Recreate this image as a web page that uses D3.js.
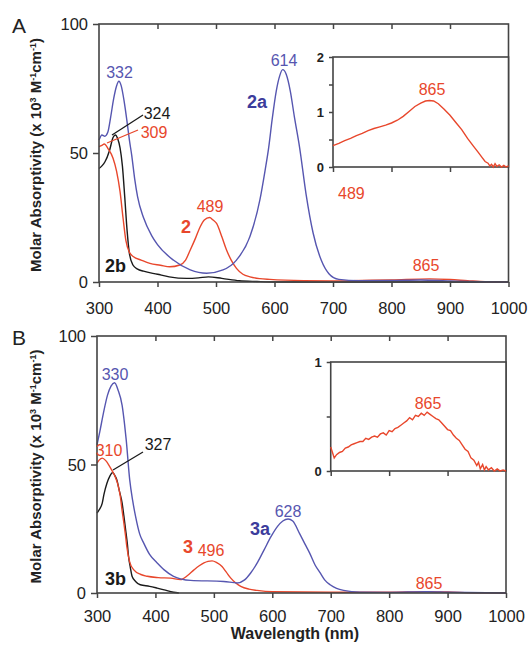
<!DOCTYPE html>
<html>
<head>
<meta charset="utf-8">
<script src="https://cdn.jsdelivr.net/npm/d3@7"></script>
<style>
  body { margin: 0; background: #fff; }
  svg { font-family: "Liberation Sans", Arial, sans-serif; }
</style>
</head>
<body>
<div id="chart"></div>
<script>
// wavelength ticks shared by both panels
var wlTicks = [300, 400, 500, 600, 700, 800, 900, 1000];
var yTicks = [0, 50, 100];

// panel A spectra: [wavelength nm, molar absorptivity x10^3]
var spec2 = [[300,52.5],[305,53],[309,53.5],[316,51.5],[324,48],[330,43],[336,35],[341,25],[346,16],[352,11.5],
  [359,9.8],[372,8.5],[387,7.2],[405,6.5],[421,5.9],[438,6.6],[448,8.5],[456,12.4],[465,17],[473,21.4],[480,24],
  [489,25],[495,24],[501,22.7],[510,17.5],[518,12.4],[526,8.5],[535,5.3],[546,3],[558,2],[575,1.3],[592,1],
  [650,0.5],[700,0.4],[750,0.6],[800,0.8],[865,1.2],[900,0.95],[930,0.5],[960,0.1],[1000,0]];
var spec2a = [[300,55],[305,57],[310,56.5],[315,58],[320,64],[325,71],[330,76],[334,77.8],[338,76],[343,70],
  [348,62],[352,55],[356,49],[361,40],[366,33],[376,25],[390,18],[400,14.5],[427,8.5],[456,4.7],[484,3.4],
  [512,4.7],[535,8.5],[558,17.6],[575,31.8],[584,43.4],[590,52],[596,63],[603,74],[609,80],[614,82.3],[620,80.5],
  [627,74],[634,64],[643,52],[654,34],[666,19],[680,8.4],[693,3.2],[710,1],[744,0.5],[800,0.6],[850,0.8],
  [900,0.4],[1000,0]];
var spec2b = [[300,44],[305,45],[310,46.5],[318,51],[324,56],[328,57],[332,55.5],[336,52],[340,45],[344,33],
  [348,20],[352,11],[358,6.6],[366,5],[376,4.2],[400,3],[420,2],[450,1.4],[470,1.6],[487,2],[510,1.4],
  [540,0.5],[570,0.2],[600,0],[1000,0]];
var inset2 = [[700,0.39],[710,0.43],[720,0.48],[730,0.52],[740,0.57],[750,0.61],[760,0.66],[770,0.70],[780,0.73],
  [790,0.76],[800,0.80],[810,0.85],[820,0.92],[830,1.01],[840,1.10],[850,1.16],[858,1.20],[865,1.21],[872,1.20],
  [880,1.15],[890,1.05],[900,0.94],[910,0.81],[920,0.68],[930,0.52],[940,0.38],[948,0.27],[955,0.17],[960,0.10],
  [965,0.07],[968,0.02],[971,0.05],[974,0],[977,0.06],[980,0.01],[984,0.04],[988,0],[992,0.03],[996,0],[1000,0.02]];

// panel B spectra
var spec3 = [[300,50.5],[304,51.8],[309,52.5],[315,51.5],[320,49.9],[326,47.5],[331,45.3],[336,42],[340,37.5],
  [343,32],[346,27.2],[349,22],[351,18.1],[356,12],[363,9],[375,7.2],[386,6.5],[405,6],[426,5.8],[443,5.2],
  [455,6.8],[466,9],[475,10.6],[483,11.7],[490,12.3],[497,12.5],[505,11.8],[514,10.3],[521,8.2],[529,5.8],
  [537,4],[546,2.6],[560,1.5],[574,1],[600,0.5],[700,0.3],[800,0.35],[865,0.53],[900,0.38],[950,0.05],[1000,0]];
var spec3a = [[300,57.6],[305,63],[311,70],[318,77],[324,80.5],[330,81.8],[336,79],[343,73],[347,66],[350,59.6],
  [356,44],[361,36],[366,29.8],[373,23],[380,19.4],[390,15],[403,11.7],[415,9],[431,6.5],[460,4.9],[517,4.5],
  [540,3.9],[552,5],[563,7.8],[575,12],[586,16.8],[598,22],[609,25.9],[618,28],[627,28.8],[635,28],[647,23],
  [656,19],[664,15.5],[673,11],[682,7.8],[690,5],[699,3.2],[710,1.8],[722,1],[750,0.3],[800,0.25],[865,0.5],
  [900,0.3],[1000,0]];
var spec3b = [[300,31.1],[304,32.5],[309,35],[312,38.5],[317,42.7],[322,45.5],[327,46.9],[331,45.5],[334,44],
  [338,40],[343,35],[346,30],[349,24.6],[352,19],[354,14.2],[357,10],[360,6.5],[366,4.5],[374,3.2],[390,2.6],
  [403,1.9],[415,1.2],[431,0.3],[440,0]];
var inset3 = [[700,0.22],[703,0.17],[706,0.12],[710,0.15],[715,0.17],[720,0.18],[725,0.21],[730,0.22],[735,0.24],
  [740,0.25],[745,0.26],[750,0.27],[755,0.27],[760,0.30],[765,0.29],[770,0.31],[775,0.32],[780,0.31],[785,0.34],
  [790,0.35],[795,0.33],[800,0.37],[805,0.36],[810,0.39],[815,0.40],[820,0.42],[825,0.44],[830,0.46],[835,0.49],
  [840,0.47],[845,0.51],[850,0.50],[855,0.53],[860,0.51],[865,0.54],[870,0.52],[875,0.50],[880,0.48],[885,0.47],
  [890,0.44],[895,0.41],[900,0.38],[905,0.37],[910,0.33],[915,0.30],[920,0.28],[925,0.24],[930,0.20],[935,0.18],
  [940,0.12],[945,0.10],[950,0.05],[953,0.08],[956,0.02],[960,0.06],[963,0.01],[966,0.04],[970,0.01],[975,0.03],
  [980,0],[985,0.02],[990,0],[995,0.01],[1000,0]];

var RED = "#e8472c", BLUE = "#5656b0", BLACK = "#1a1a1a", DKBLUE = "#3c3c9c", AXIS = "#444";

var svg = d3.select("#chart").append("svg")
  .attr("width", 531).attr("height", 648);

function drawPanel(p) {
  var x = d3.scaleLinear().domain([300, 1000]).range([p.left, p.right]);
  var y = d3.scaleLinear().domain([0, 100]).range([p.bottom, p.top]);
  var g = svg.append("g");

  var line = d3.line().x(function(d){ return x(d[0]); }).y(function(d){ return y(d[1]); })
    .curve(d3.curveMonotoneX);

  // spectra (black under red under blue)
  p.series.forEach(function(s) {
    g.append("path").attr("d", line(s.data)).attr("fill", "none")
      .attr("stroke", s.color).attr("stroke-width", 1.4);
  });

  // frame + ticks
  g.append("rect").attr("x", p.left).attr("y", p.top)
    .attr("width", p.right - p.left).attr("height", p.bottom - p.top)
    .attr("fill", "none").attr("stroke", AXIS).attr("stroke-width", 1.6);
  g.append("g").attr("transform", "translate(0," + p.bottom + ")")
    .call(d3.axisBottom(x).tickValues(wlTicks).tickSize(5).tickPadding(p.xPad).tickFormat(d3.format("d")))
    .call(styleAxis).selectAll("text").style("font-size", "16.5px");
  g.append("g").attr("transform", "translate(0," + p.top + ")")
    .call(d3.axisBottom(x).tickValues(wlTicks.slice(1, -1)).tickSize(5).tickFormat(""))
    .call(styleAxis);
  g.append("g").attr("transform", "translate(" + p.left + ",0)")
    .call(d3.axisLeft(y).tickValues(yTicks).tickSize(6).tickPadding(5))
    .call(styleAxis).selectAll("text").style("font-size", "16.5px").attr("dy", "0.35em");

  // inset
  var iy = d3.scaleLinear().domain([0, p.insetMax]).range([p.insetBottom, p.insetTop]);
  var ix = d3.scaleLinear().domain([700, 1000]).range([x(700), p.right]);
  g.append("rect").attr("x", x(700)).attr("y", p.insetTop)
    .attr("width", p.right - x(700)).attr("height", p.insetBottom - p.insetTop)
    .attr("fill", "#fff").attr("stroke", AXIS).attr("stroke-width", 1.6);
  var iline = d3.line().x(function(d){ return ix(d[0]); }).y(function(d){ return iy(d[1]); });
  g.append("path").attr("d", iline(p.inset)).attr("fill", "none")
    .attr("stroke", RED).attr("stroke-width", 1.4);
  g.append("g").attr("transform", "translate(0," + p.insetBottom + ")")
    .call(d3.axisBottom(ix).tickValues([700, 800, 900]).tickSize(5).tickFormat(""))
    .call(styleAxis);
  g.append("g").attr("transform", "translate(" + x(700) + ",0)")
    .call(d3.axisLeft(iy).tickValues(p.insetTicks).tickSize(4).tickPadding(5)
      .tickFormat(function(d){ return d % 1 === 0 ? d : ""; }))
    .call(styleAxis).selectAll("text").style("font-size", "13px").style("font-weight", "bold");

  // panel letter
  svg.append("text").attr("x", 12).attr("y", p.top + 9).text(p.letter)
    .style("font-size", "21px").attr("fill", "#222");

  // y-axis title
  var yt = svg.append("text")
    .attr("transform", "translate(41," + ((p.top + p.bottom) / 2 + 2) + ") rotate(-90)")
    .attr("text-anchor", "middle").style("font-size", "15px").style("font-weight", "bold")
    .attr("fill", "#222");
  yt.append("tspan").text("Molar Absorptivity (x 10");
  yt.append("tspan").text("3").attr("dy", -5).style("font-size", "9px");
  yt.append("tspan").text(" M").attr("dy", 5);
  yt.append("tspan").text("-1").attr("dy", -5).style("font-size", "9px");
  yt.append("tspan").text("cm").attr("dy", 5);
  yt.append("tspan").text("-1").attr("dy", -5).style("font-size", "9px");
  yt.append("tspan").text(")").attr("dy", 5);

  // leader lines
  p.leaders.forEach(function(l) {
    svg.append("line").attr("x1", l[0]).attr("y1", l[1]).attr("x2", l[2]).attr("y2", l[3])
      .attr("stroke", l[4]).attr("stroke-width", 1.3);
  });

  // peak labels
  p.labels.forEach(function(t) {
    svg.append("text").attr("x", t.x).attr("y", t.y).text(t.text)
      .attr("text-anchor", t.anchor || "middle").attr("fill", t.color)
      .style("font-size", t.bold ? "18px" : "16px").style("font-weight", t.bold ? "bold" : "normal");
  });
}

function styleAxis(sel) {
  sel.select(".domain").remove();
  sel.selectAll("line").attr("stroke", AXIS).attr("stroke-width", 1.5);
  sel.selectAll("text").attr("fill", "#222").style("font-family", "'Liberation Sans', Arial, sans-serif");
}

drawPanel({
  letter: "A", left: 99, right: 508.5, top: 24, bottom: 282, xPad: 15,
  series: [{data: spec2b, color: BLACK}, {data: spec2, color: RED}, {data: spec2a, color: BLUE}],
  inset: inset2, insetMax: 2, insetTicks: [0, 0.5, 1, 1.5, 2], insetTop: 57, insetBottom: 167,
  leaders: [[112, 135, 143, 115, BLACK], [107, 143, 138, 130, RED]],
  labels: [
    {text: "332", x: 119.5, y: 78, color: BLUE},
    {text: "324", x: 157, y: 119, color: BLACK},
    {text: "309", x: 154, y: 138, color: RED},
    {text: "614", x: 284, y: 66, color: BLUE},
    {text: "2a", x: 257, y: 108, color: DKBLUE, bold: true},
    {text: "489", x: 210, y: 212, color: RED},
    {text: "2", x: 186, y: 233, color: RED, bold: true},
    {text: "2b", x: 105, y: 272, color: BLACK, bold: true, anchor: "start"},
    {text: "865", x: 432, y: 95, color: RED},
    {text: "489", x: 338, y: 199, color: RED, anchor: "start"},
    {text: "865", x: 426, y: 271, color: RED}
  ]
});

drawPanel({
  letter: "B", left: 97, right: 506, top: 336, bottom: 593, xPad: 12,
  series: [{data: spec3b, color: BLACK}, {data: spec3, color: RED}, {data: spec3a, color: BLUE}],
  inset: inset3, insetMax: 1, insetTicks: [0, 0.5, 1], insetTop: 362, insetBottom: 471,
  leaders: [[113, 470, 143, 452, BLACK]],
  labels: [
    {text: "330", x: 115, y: 380, color: BLUE},
    {text: "310", x: 109, y: 456, color: RED},
    {text: "327", x: 158, y: 450, color: BLACK},
    {text: "3", x: 188, y: 553, color: RED, bold: true},
    {text: "496", x: 211, y: 556, color: RED},
    {text: "3b", x: 105, y: 585, color: BLACK, bold: true, anchor: "start"},
    {text: "3a", x: 260, y: 535, color: DKBLUE, bold: true},
    {text: "628", x: 288, y: 517, color: BLUE},
    {text: "865", x: 428, y: 409, color: RED},
    {text: "865", x: 429, y: 589, color: RED}
  ]
});

// x-axis title
svg.append("text").attr("x", 295).attr("y", 639).attr("text-anchor", "middle")
  .style("font-size", "16px").style("font-weight", "bold").attr("fill", "#222")
  .text("Wavelength (nm)");
</script>
</body>
</html>
